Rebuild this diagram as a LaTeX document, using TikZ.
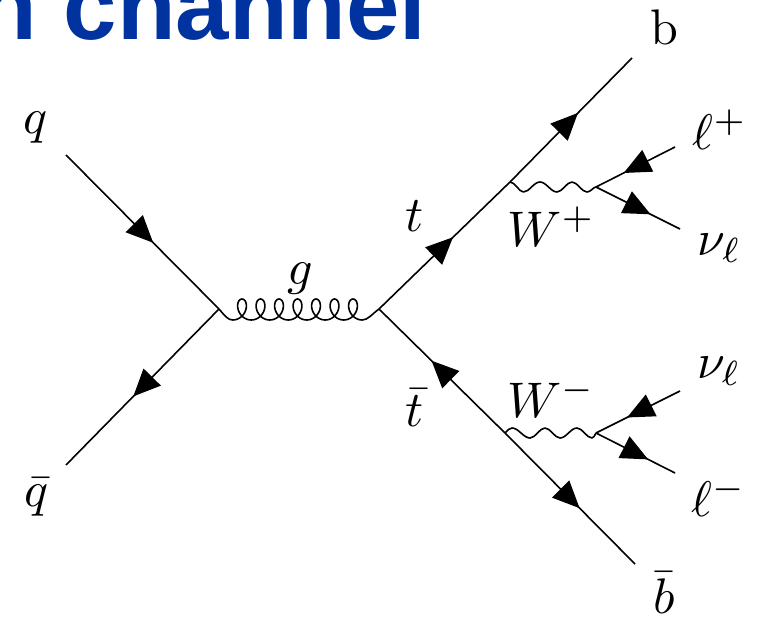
\documentclass[tikz,border=0pt]{standalone}
\usepackage[no-math]{fontspec}
\newfontfamily\titlefont{Liberation Sans}
\usetikzlibrary{arrows.meta,decorations.markings}
\definecolor{titleblue}{RGB}{0,51,160}
\tikzset{
  x=1pt,y=-1pt,
  fermion/.style={line width=1.6pt,postaction={decorate},decoration={markings,mark=at position #1 with {\arrow{Triangle[length=27pt,width=24pt]}}}},
  gluon/.style={line width=1.6pt,line join=round},
  boson/.style={line width=1.6pt,line join=round},
  lab/.style={inner sep=0pt,scale=5},
}
\begin{document}
\begin{tikzpicture}
\useasboundingbox (0,0) rectangle (757,617);
\clip (0,0) rectangle (757,617);
\node[anchor=base east,inner sep=0pt,text=titleblue,font=\fontsize{96}{100}\selectfont\titlefont\bfseries] (title) at (426.7,40) {n channel};
\coordinate (v1) at (219,309);
\coordinate (v2) at (379,309);
\coordinate (q) at (66,155);
\coordinate (qb) at (66,465);
\coordinate (wp) at (510,182);
\coordinate (wm) at (505,433);
\coordinate (bt) at (632,58);
\coordinate (bb) at (635,564);
\coordinate (wpe) at (596,187);
\coordinate (wme) at (596,433);
\coordinate (lp) at (675,147);
\coordinate (nu1) at (680,229);
\coordinate (nu2) at (680,391);
\coordinate (lm) at (675,473);
\draw[fermion=0.57] (q) -- (v1);
\draw[fermion=0.56] (v1) -- (qb);
\draw[fermion=0.565] (v2) -- (wp);
\draw[fermion=0.557] (wp) -- (bt);
\draw[fermion=0.583] (wm) -- (v2);
\draw[fermion=0.574] (wm) -- (bb);
\draw[gluon] (v1) .. controls (225,316) and (228,320) .. (232.75,320)
  -- plot[domain=0:2520,samples=281,smooth] ({232.75+\x/360*18.5+8.5*sin(\x)},{309.5+10.5*cos(\x)})
  .. controls (368,320) and (372,314) .. (v2);
\draw[boson] (wp) cos (517,187) sin (523.5,192) cos (531.5,187) sin (540,182) cos (548.5,187) sin (557,192) cos (564.5,187) sin (572,182) cos (579.5,187) sin (587,192) cos (592,189.5) sin (wpe);
\draw[boson] (wm) sin (512,428) cos (521,433) sin (530,438) cos (537.5,433) sin (545,428) cos (552.5,433) sin (560,438) cos (568.5,433) sin (577,428) cos (584.5,433) sin (592,438) cos (wme);
\draw[fermion=0.65] (lp) -- (wpe);
\draw[fermion=0.65] (wpe) -- (nu1);
\draw[fermion=0.63] (nu2) -- (wme);
\draw[fermion=0.66] (wme) -- (lm);
\node[lab] (lq) at (36,128) {$q$};
\node[lab] (lqb) at (37,497) {$\bar q$};
\node[lab] (lg) at (300,279) {$g$};
\node[lab] (lt) at (415,216) {$t$};
\node[lab] (ltb) at (415,408) {$\bar t$};
\node[lab] (lb) at (664,27) {$\mathrm{b}$};
\node[lab] (lbb) at (664,593) {$\bar b$};
\node[lab] (llp) at (720,130) {$\ell^+$};
\node[lab] (lnu1) at (719.5,248) {$\nu_\ell$};
\node[lab] (lnu2) at (719,371) {$\nu_\ell$};
\node[lab] (llm) at (719,497) {$\ell^-$};
\node[lab] (lwp) at (551.5,227) {$W^+$};
\node[lab] (lwm) at (551,398) {$W^-$};
\end{tikzpicture}
\end{document}
